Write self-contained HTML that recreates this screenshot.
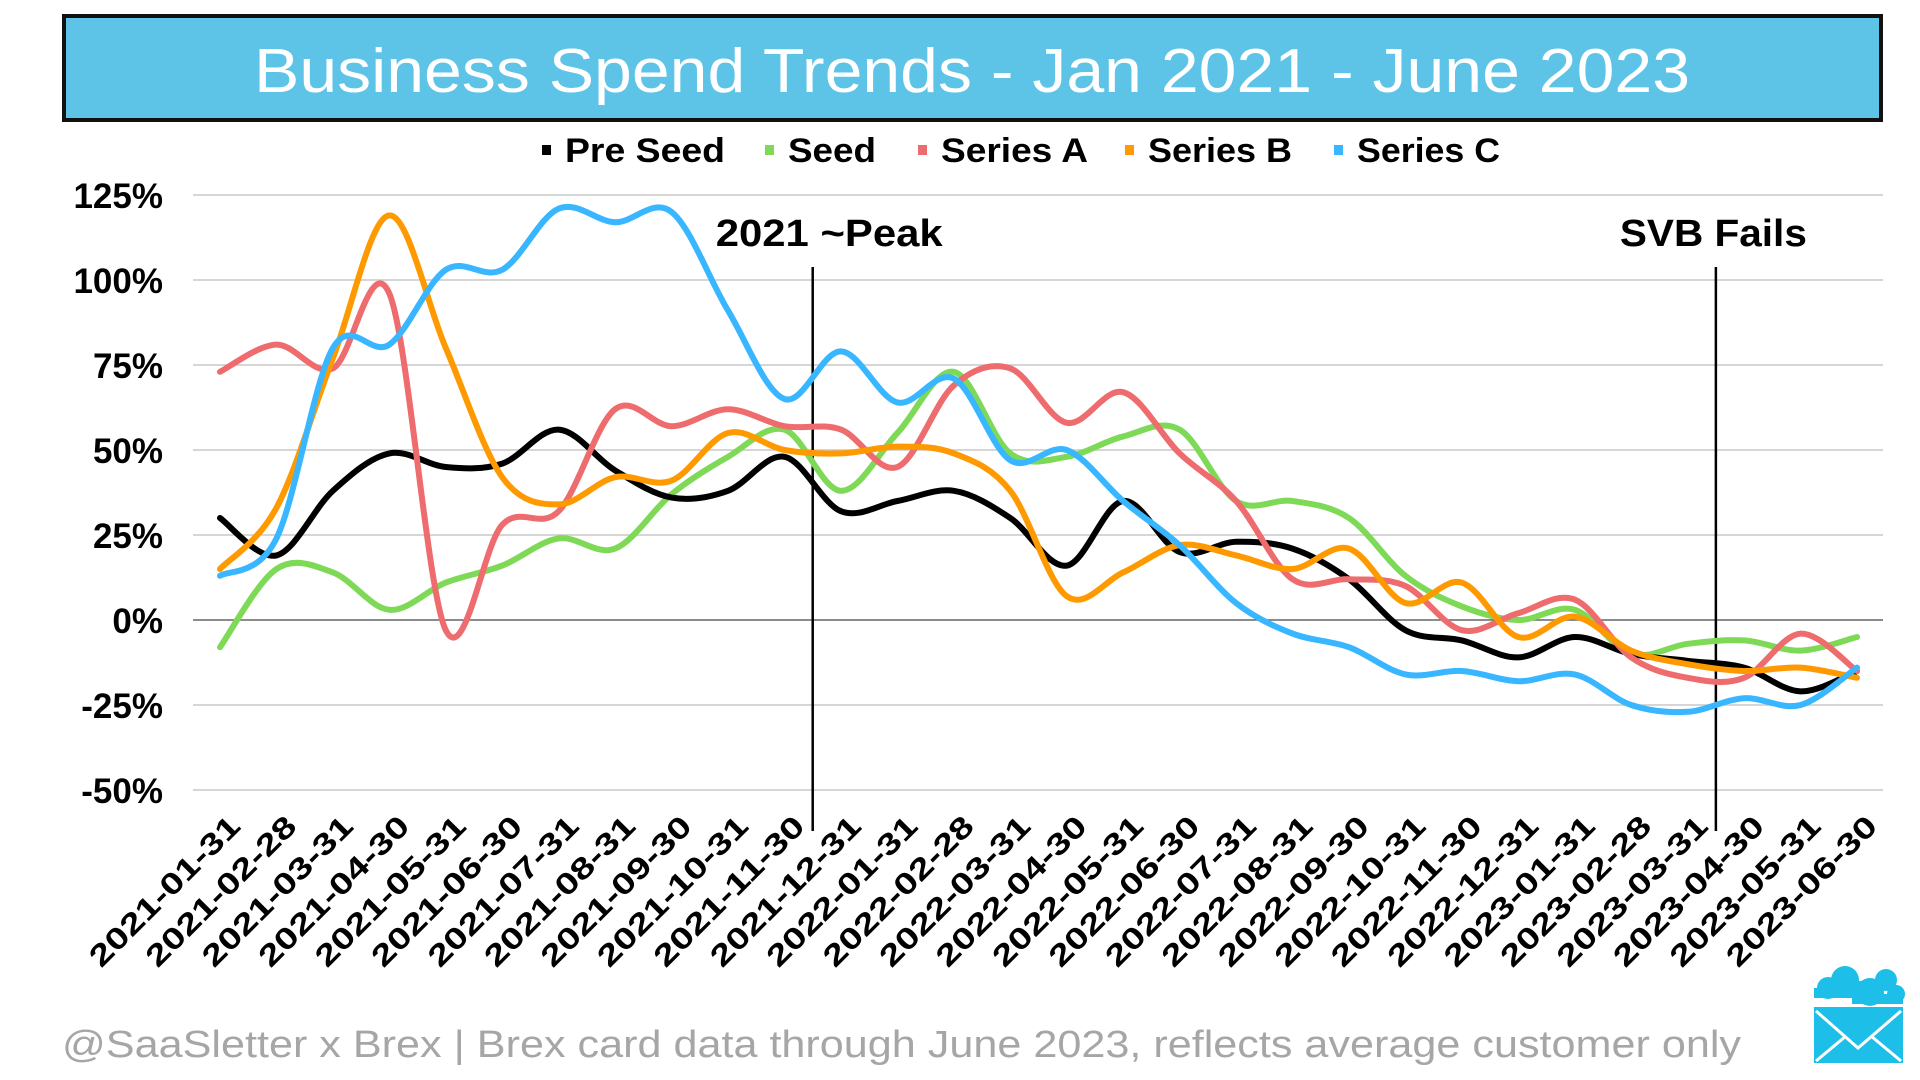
<!DOCTYPE html>
<html><head><meta charset="utf-8"><style>
html,body{margin:0;padding:0;background:#fff;}
svg{display:block;font-family:"Liberation Sans",sans-serif;}
</style></head><body>
<svg id="chart" width="1920" height="1080" viewBox="0 0 1920 1080">
<rect x="64" y="16" width="1817" height="104" fill="#5DC4E8" stroke="#111" stroke-width="4"/>
<text x="254" y="92" font-size="62" fill="#fff" textLength="1436" lengthAdjust="spacingAndGlyphs">Business Spend Trends - Jan 2021 - June 2023</text>
<g id="legend"></g>
<g id="grid"></g>
<g id="yaxis"></g>
<g id="xaxis"></g>
<g id="annot"></g>
<g id="series"></g>
<text x="62" y="1057" font-size="38" fill="#A6A6A6" textLength="1679" lengthAdjust="spacingAndGlyphs">@SaaSletter x Brex | Brex card data through June 2023, reflects average customer only</text>
<g fill="#1DBFE8">
<circle cx="1828" cy="988" r="11"/><circle cx="1845" cy="980" r="14"/><circle cx="1860" cy="990" r="9"/>
<rect x="1814" y="988" width="50" height="10"/>
<circle cx="1870" cy="992" r="14"/><circle cx="1886" cy="980" r="11"/><circle cx="1896" cy="994" r="9"/>
<rect x="1852" y="994" width="51" height="10"/>
<rect x="1814" y="1007" width="89" height="56"/>
<path d="M1816 1011 L1858 1048 L1901 1011 M1816 1061 L1846 1036 M1901 1061 L1871 1036" stroke="#fff" stroke-width="3" fill="none"/>
</g>
</svg>
<script>
const dates=["2021-01-31","2021-02-28","2021-03-31","2021-04-30","2021-05-31","2021-06-30","2021-07-31","2021-08-31","2021-09-30","2021-10-31","2021-11-30","2021-12-31","2022-01-31","2022-02-28","2022-03-31","2022-04-30","2022-05-31","2022-06-30","2022-07-31","2022-08-31","2022-09-30","2022-10-31","2022-11-30","2022-12-31","2023-01-31","2023-02-28","2023-03-31","2023-04-30","2023-05-31","2023-06-30"];
const preSeed=[30,19,38,49,45,46,56,44,36,38,48,32,35,38,30,16,35,20,23,21,12,-3,-6,-11,-5,-10,-12,-14,-21,-15];
const seed=[-8,15,14,3,11,16,24,21,37,48,56,38,55,73,49,48,54,56,35,35,30,13,4,0,3,-10,-7,-6,-9,-5];
const seriesA=[73,81,74,96,-3,28,32,62,57,62,57,56,45,69,74,58,67,49,35,12,12,10,-3,2,6,-11,-17,-17,-4,-15];
const seriesB=[15,33,77,119,80,42,34,42,41,55,50,49,51,49,38,7,14,22,19,15,21,5,11,-5,1,-9,-13,-15,-14,-17];
const seriesC=[13,24,80,81,103,103,121,117,120,91,65,79,64,71,47,50,35,22,5,-4,-8,-16,-15,-18,-16,-25,-27,-23,-25,-14];
const yTicks=[125,100,75,50,25,0,-25,-50];
const seriesNames=["Pre Seed","Seed","Series A","Series B","Series C"];
const seriesColors=["#000000","#7ED957","#EE6B6E","#FF9900","#38B6FF"];
const annotations=[{label:"2021 ~Peak",pos:10.5},{label:"SVB Fails",pos:26.5}];

const NS="http://www.w3.org/2000/svg";
const X0=220,X1=1857,GL=193,GR=1883;
function xs(i){return X0+(X1-X0)*i/(dates.length-1);}
function ys(v){return 620-v*85/25;}
function mk(tag,attrs,parent){const e=document.createElementNS(NS,tag);for(const k in attrs)e.setAttribute(k,attrs[k]);parent.appendChild(e);return e;}

const grid=document.getElementById('grid'),yaxis=document.getElementById('yaxis');
yTicks.forEach(t=>{
  const l=mk('line',{x1:GL,x2:GR,y1:ys(t),y2:ys(t),stroke:t===0?'#666':'#c8c8c8','stroke-width':1.5},grid);
  
  
  const tx=mk('text',{x:163,y:ys(t)+13,'font-size':35,'font-weight':'bold','text-anchor':'end',fill:'#000'},yaxis);
  tx.textContent=t+'%';
  
  
});

const xaxis=document.getElementById('xaxis');
dates.forEach((d,i)=>{
  const ex=xs(i)+22,ey=828;
  const tx=mk('text',{x:ex,y:ey,'font-size':30,'font-weight':'bold','text-anchor':'end',fill:'#000',transform:`rotate(-45 ${ex} ${ey})`,textLength:199,lengthAdjust:'spacingAndGlyphs'},xaxis);
  tx.textContent=d;
  
  
});

const annot=document.getElementById('annot');
const annW=[227,187];
annotations.forEach((a,k)=>{
  const x=X0+(X1-X0)*a.pos/(dates.length-1);
  const l=mk('line',{x1:x,x2:x,y1:267,y2:831,stroke:'#000','stroke-width':2.5},annot);
  
  
  const t=mk('text',{x:x+(k===0?-97:-96),y:246,'font-size':38,'font-weight':'bold',fill:'#000',textLength:annW[k],lengthAdjust:'spacingAndGlyphs'},annot);
  t.textContent=a.label;
  
  
});

function smoothPath(vals){
  const p=vals.map((v,i)=>[xs(i),ys(v)]);
  let d=`M${p[0][0]},${p[0][1]}`;
  for(let i=0;i<p.length-1;i++){
    const p0=p[i-1]||p[i],p1=p[i],p2=p[i+1],p3=p[i+2]||p[i+1];
    const c1=[p1[0]+(p2[0]-p0[0])/6,p1[1]+(p2[1]-p0[1])/6];
    const c2=[p2[0]-(p3[0]-p1[0])/6,p2[1]-(p3[1]-p1[1])/6];
    d+=` C${c1[0]},${c1[1]} ${c2[0]},${c2[1]} ${p2[0]},${p2[1]}`;
  }
  return d;
}
const series=document.getElementById('series');
const allData=[preSeed,seed,seriesA,seriesB,seriesC];
const order=[1,0,2,3,4];
order.forEach(k=>{
  const p=mk('path',{d:smoothPath(allData[k]),fill:'none',stroke:seriesColors[k],'stroke-width':6,'stroke-linejoin':'round','stroke-linecap':'round'},series);
  
  
});

const legend=document.getElementById('legend');
const legX=[542,765,918,1125,1334],legW=[160,88,147,144,143];
seriesNames.forEach((n,k)=>{
  const r=mk('rect',{x:legX[k],y:145,width:9,height:10,fill:seriesColors[k]},legend);
  
  
  const t=mk('text',{x:legX[k]+23,y:162,'font-size':34,'font-weight':'bold',fill:'#000',textLength:legW[k],lengthAdjust:'spacingAndGlyphs'},legend);
  t.textContent=n;
  
  
});
</script>
</body></html>
